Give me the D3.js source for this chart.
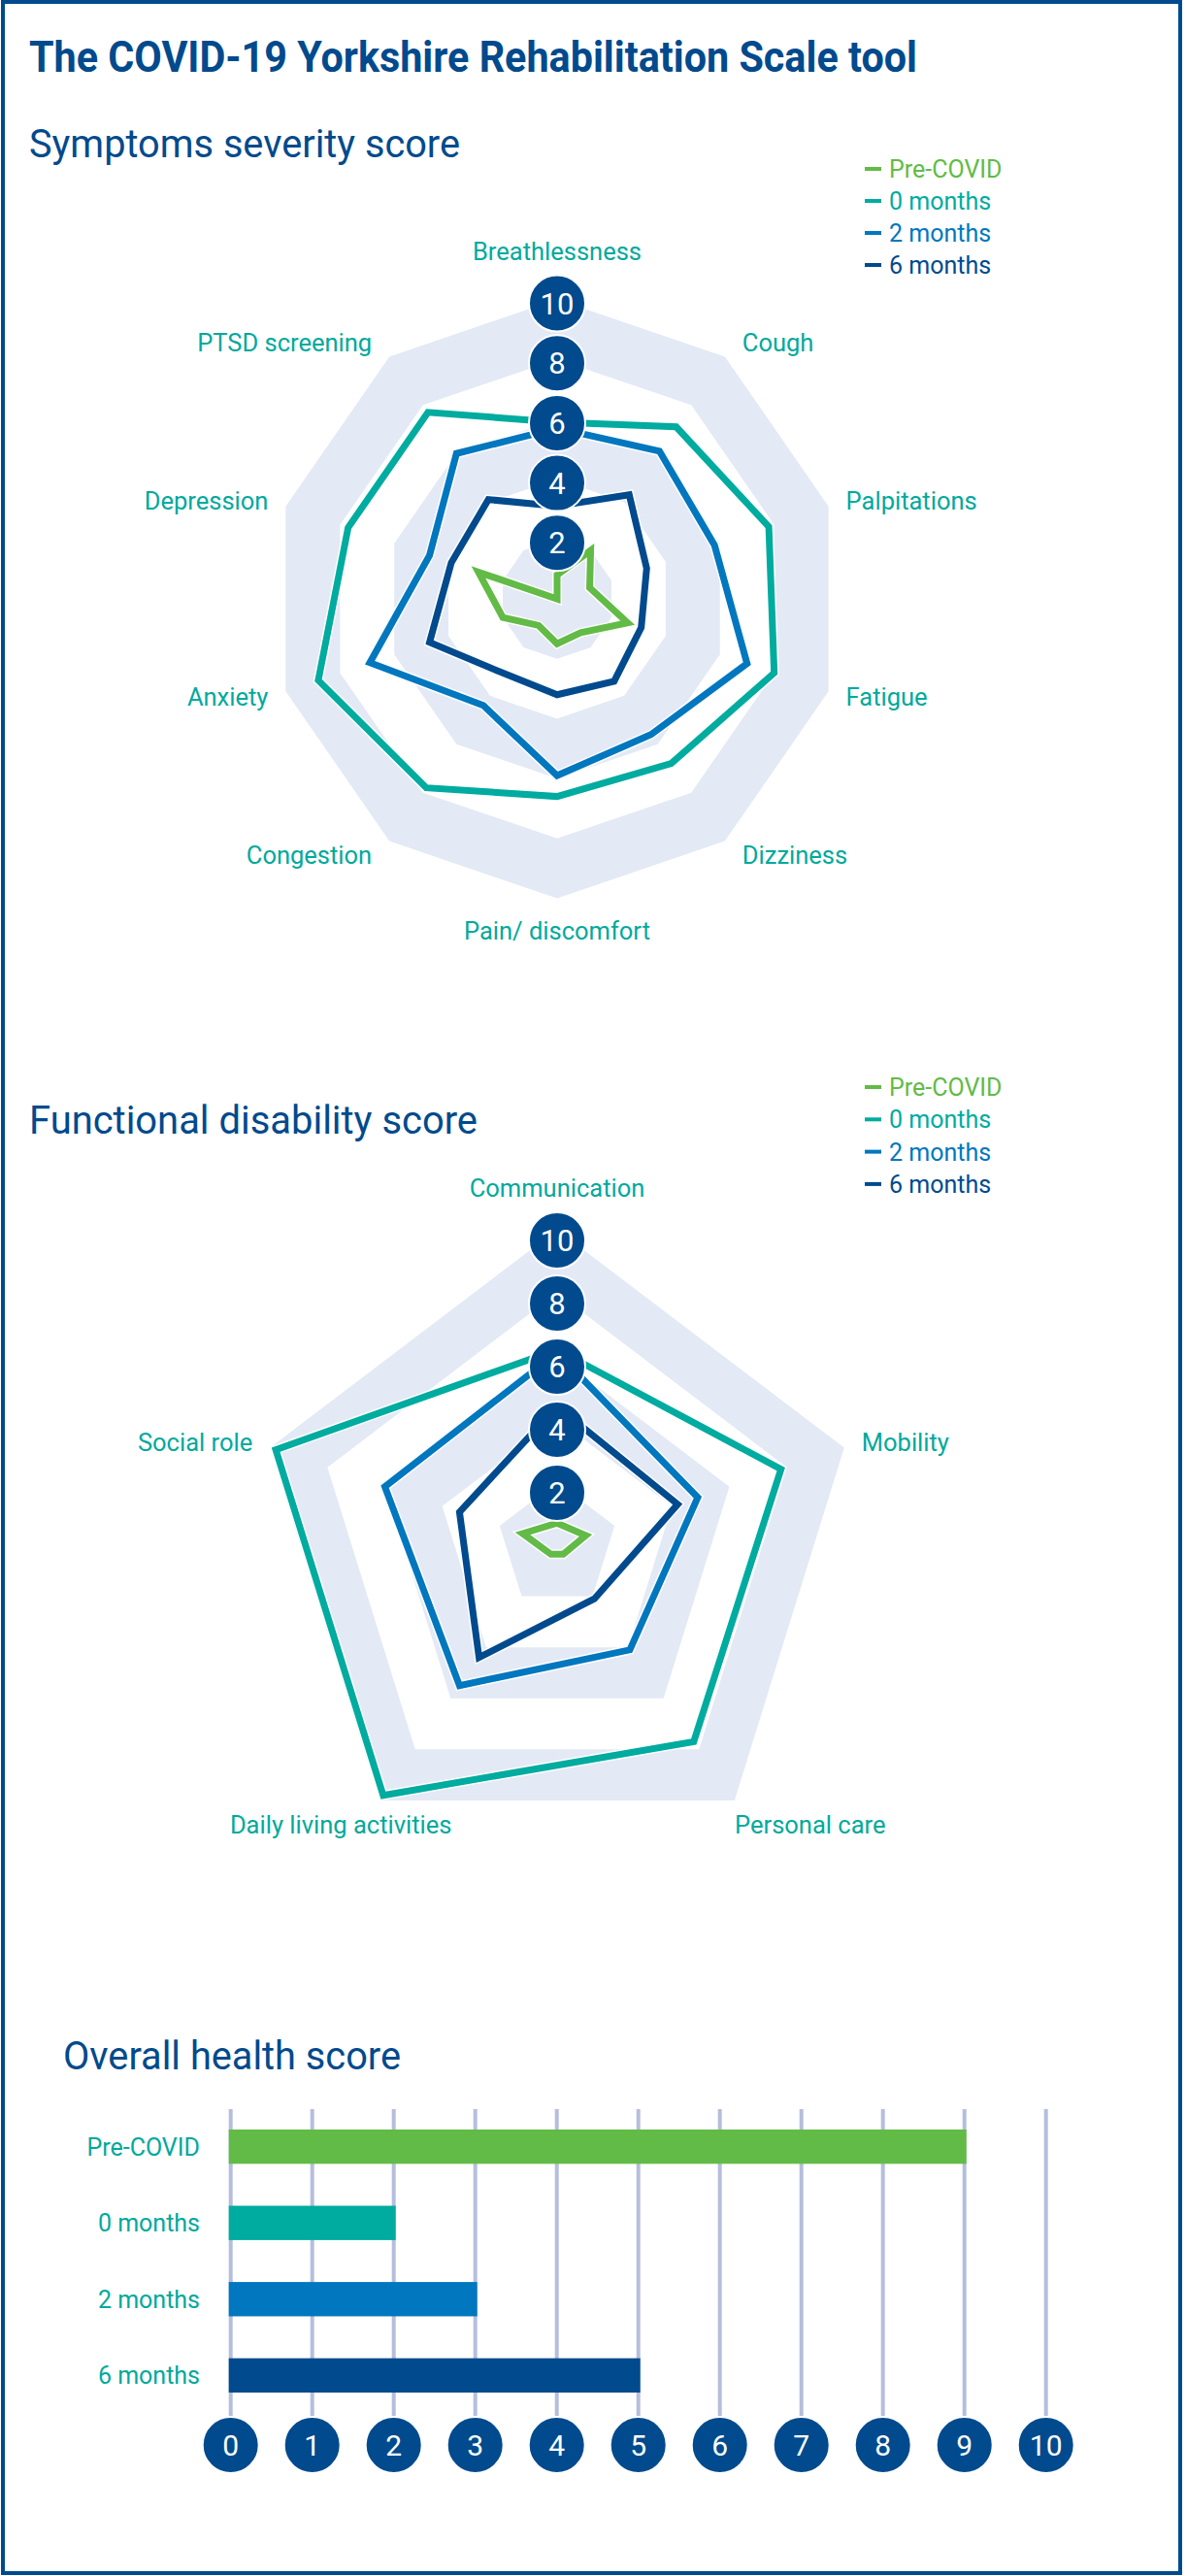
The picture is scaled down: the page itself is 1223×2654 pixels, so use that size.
<!DOCTYPE html>
<html><head><meta charset="utf-8">
<script src="https://cdn.jsdelivr.net/npm/d3@7"></script>
<style>
html,body{margin:0;padding:0;background:#fff;}
svg{display:block;font-family:Roboto,"Open Sans","Noto Sans",sans-serif;}
</style></head><body>
<svg id="chart" width="1223" height="2654"></svg>
<script>
// ---------- data ----------
const seriesNames = ["Pre-COVID", "0 months", "2 months", "6 months"];
const seriesColors = ["#62bb46", "#00ab9f", "#0077be", "#004a8d"];

const symptomAxes = ["Breathlessness", "Cough", "Palpitations", "Fatigue", "Dizziness",
  "Pain/ discomfort", "Congestion", "Anxiety", "Depression", "PTSD screening"];
const symptomPreCovid = [0.8, 2.0, 1.2, 2.6, 1.4, 1.5, 1.1, 2.0, 2.9, 0.0];
const symptom0Months  = [5.9, 7.1, 7.8, 8.0, 6.8, 6.6, 7.8, 8.8, 7.7, 7.7];
const symptom2Months  = [5.7, 6.1, 5.8, 7.0, 5.6, 5.9, 4.4, 6.9, 4.7, 6.0];
const symptom6Months  = [3.1, 4.3, 3.3, 3.1, 3.4, 3.2, 3.1, 4.7, 3.9, 4.1];

const functionalAxes = ["Communication", "Mobility", "Personal care", "Daily living activities", "Social role"];
const functionalPreCovid = [0.7, 1.0, 0.35, 0.35, 1.2];
const functional0Months  = [6.2, 7.8, 7.7, 9.8, 9.8];
const functional2Months  = [6.1, 4.9, 4.1, 5.5, 6.0];
const functional6Months  = [4.4, 4.2, 2.1, 4.4, 3.4];

const overallCategories = ["Pre-COVID", "0 months", "2 months", "6 months"];
const overallValues = [9, 2, 3, 5];

const radarTicks = [2, 4, 6, 8, 10];
const barTicks = [0, 1, 2, 3, 4, 5, 6, 7, 8, 9, 10];

// ---------- styles ----------
const NAVY = "#004a8d";
const TEAL_TEXT = "#00a99d";
const BAND = "#e3e9f5";
const GRID = "#b5bedc";

const svg = d3.select("#chart");

// frame
svg.append("rect").attr("x", 3).attr("y", 2).attr("width", 1213).attr("height", 2649)
  .attr("fill", "none").attr("stroke", NAVY).attr("stroke-width", 4);

function fitText(sel, w) {
  sel.attr("textLength", w).attr("lengthAdjust", "spacingAndGlyphs");
}

// title + headings
fitText(svg.append("text").attr("x", 30).attr("y", 74)
  .attr("font-size", 45).attr("font-weight", 700).attr("fill", NAVY)
  .text("The COVID-19 Yorkshire Rehabilitation Scale tool"), 915);

function heading(txt, y, x, w) {
  fitText(svg.append("text").attr("x", x).attr("y", y)
    .attr("font-size", 40).attr("fill", NAVY).text(txt), w);
}
heading("Symptoms severity score", 162, 30, 444);
heading("Functional disability score", 1168, 30, 462);
heading("Overall health score", 2132, 65, 348);

// legends
function legend(yTop, step) {
  const g = svg.append("g");
  seriesNames.forEach((n, i) => {
    const y = yTop + i * step;
    g.append("rect").attr("x", 891).attr("y", y - 2).attr("width", 17).attr("height", 4)
      .attr("fill", seriesColors[i]);
    g.append("text").attr("x", 916).attr("y", y + 9).attr("font-size", 25)
      .attr("fill", seriesColors[i]).text(n);
  });
}
legend(174, 33);
legend(1120, 33.3);

// ---------- radar ----------
function radar(o) {
  const n = o.axes.length;
  const rX = d3.scaleLinear().domain([0, 10]).range([0, o.rx]);
  const rY = d3.scaleLinear().domain([0, 10]).range([0, o.ry]);
  const ang = i => i * 2 * Math.PI / n;
  const pt = (v, i) => [o.cx + rX(v) * Math.sin(ang(i)), o.cy - rY(v) * Math.cos(ang(i))];
  const g = svg.append("g");
  const poly = d3.line().curve(d3.curveLinearClosed);

  // bands
  const levels = radarTicks.slice().reverse();
  levels.forEach((lv, k) => {
    g.append("path").attr("d", poly(o.axes.map((_, i) => pt(lv, i))))
      .attr("fill", k % 2 === 0 ? BAND : "#fff");
  });

  // halos then lines
  o.series.forEach(s => {
    g.append("path").attr("d", poly(s.map((v, i) => pt(v, i))))
      .attr("fill", "none").attr("stroke", "#fff").attr("stroke-width", 10)
      .attr("stroke-linejoin", "miter").attr("stroke-miterlimit", 6);
  });
  o.series.forEach((s, k) => {
    g.append("path").attr("d", poly(s.map((v, i) => pt(v, i))))
      .attr("fill", "none").attr("stroke", seriesColors[k]).attr("stroke-width", 7)
      .attr("stroke-linejoin", "miter").attr("stroke-miterlimit", 6);
  });

  // tick circles
  radarTicks.forEach(t => {
    const y = o.cy - rY(t) + o.circleDy;
    g.append("circle").attr("cx", o.cx).attr("cy", y).attr("r", 29)
      .attr("fill", NAVY).attr("stroke", "#fff").attr("stroke-width", 2);
    g.append("text").attr("x", o.cx).attr("y", y + 11).attr("text-anchor", "middle")
      .attr("font-size", 31).attr("fill", "#fff").text(t);
  });

  // axis labels
  const topCircleY = o.cy - rY(10) + o.circleDy;
  o.axes.forEach((name, i) => {
    const a = ang(i), s = Math.sin(a), c = Math.cos(a);
    const [vx, vy] = pt(10, i);
    let x, y, anchor;
    if (Math.abs(s) < 1e-6) {
      anchor = "middle"; x = o.cx;
      y = c > 0 ? topCircleY - 45 : vy + 42;
    } else if (o.bottomMiddle && c < -0.5) {
      anchor = "middle"; x = vx + (s > 0 ? 78 : -40); y = vy + 34;
    } else {
      anchor = s > 0 ? "start" : "end";
      x = vx + Math.sign(s) * 18;
      y = vy + 9 - c * 18;
    }
    g.append("text").attr("x", x).attr("y", y).attr("text-anchor", anchor)
      .attr("font-size", 25.5).attr("fill", TEAL_TEXT).text(name);
  });
}

radar({
  axes: symptomAxes,
  series: [symptomPreCovid, symptom0Months, symptom2Months, symptom6Months],
  cx: 574, cy: 617, rx: 294, ry: 308.5, circleDy: 4, bottomMiddle: false
});
radar({
  axes: functionalAxes,
  series: [functionalPreCovid, functional0Months, functional2Months, functional6Months],
  cx: 574, cy: 1592, rx: 311, ry: 325, circleDy: 11, bottomMiddle: true
});

// ---------- bar chart ----------
const x = d3.scaleLinear().domain([0, 10]).range([237.7, 1077.7]);
const y = d3.scaleBand().domain(overallCategories).range([2194, 2465])
  .paddingInner(0.55).paddingOuter(0);
const bg = svg.append("g");
const gridTop = 2173, tickY = 2519;
barTicks.forEach(t => {
  bg.append("line").attr("x1", x(t)).attr("x2", x(t)).attr("y1", gridTop).attr("y2", tickY)
    .attr("stroke", GRID).attr("stroke-width", 4);
});
overallCategories.forEach((c, i) => {
  bg.append("rect").attr("x", x(0) - 2).attr("y", y(c))
    .attr("width", x(overallValues[i]) - x(0) + 4).attr("height", y.bandwidth())
    .attr("fill", seriesColors[i]);
  bg.append("text").attr("x", 206).attr("y", y(c) + y.bandwidth() / 2 + 9)
    .attr("text-anchor", "end").attr("font-size", 25).attr("fill", TEAL_TEXT).text(c);
});
barTicks.forEach(t => {
  bg.append("circle").attr("cx", x(t)).attr("cy", tickY).attr("r", 29)
    .attr("fill", NAVY).attr("stroke", "#fff").attr("stroke-width", 2);
  bg.append("text").attr("x", x(t)).attr("y", tickY + 11).attr("text-anchor", "middle")
    .attr("font-size", 30).attr("fill", "#fff").text(t);
});
</script>
</body></html>
